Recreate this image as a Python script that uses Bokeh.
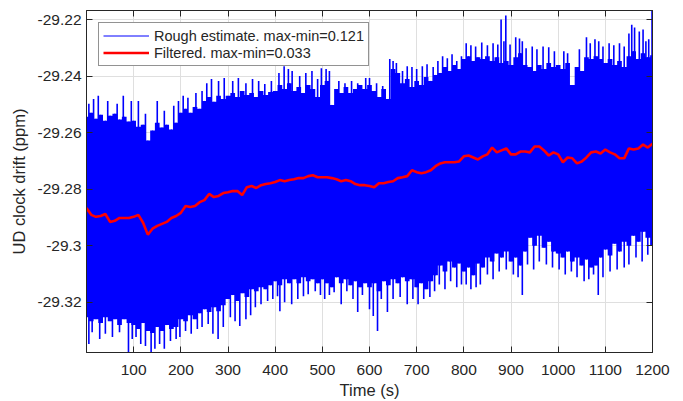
from bokeh.plotting import figure
from bokeh.models import (Range1d, LinearAxis, FixedTicker, Legend, LegendItem,
                          CustomLabelingPolicy)
from bokeh.embed import file_html
from bokeh.resources import INLINE

# ---------------- data ----------------
time_s = list(range(0, 1201, 10))

# dense part of the rough estimate (upper / lower edge every 10 s)
rough_upper = [
    -29.2543, -29.2529, -29.2550, -29.2536, -29.2557, -29.2539, -29.2532, -29.2553, -29.2543, -29.2560,
    -29.2557, -29.2578, -29.2571, -29.2627, -29.2592, -29.2564, -29.2581, -29.2571, -29.2588, -29.2564,
    -29.2529, -29.2515, -29.2529, -29.2508, -29.2515, -29.2487, -29.2473, -29.2490, -29.2469, -29.2480,
    -29.2469, -29.2459, -29.2473, -29.2452, -29.2466, -29.2459, -29.2473, -29.2452, -29.2466, -29.2455,
    -29.2452, -29.2431, -29.2445, -29.2424, -29.2452, -29.2438, -29.2459, -29.2431, -29.2445, -29.2473,
    -29.2431, -29.2416, -29.2501, -29.2445, -29.2459, -29.2438, -29.2459, -29.2445, -29.2431, -29.2445,
    -29.2431, -29.2452, -29.2473, -29.2445, -29.2480, -29.2374, -29.2388, -29.2424, -29.2409, -29.2438,
    -29.2416, -29.2431, -29.2402, -29.2416, -29.2395, -29.2388, -29.2367, -29.2381, -29.2360, -29.2374,
    -29.2339, -29.2329, -29.2346, -29.2332, -29.2339, -29.2329, -29.2346, -29.2332, -29.2353, -29.2346,
    -29.2360, -29.2332, -29.2318, -29.2360, -29.2367, -29.2381, -29.2360, -29.2374, -29.2353, -29.2367,
    -29.2360, -29.2374, -29.2353, -29.2431, -29.2367, -29.2381, -29.2332, -29.2339, -29.2329, -29.2339,
    -29.2353, -29.2339, -29.2360, -29.2346, -29.2367, -29.2329, -29.2311, -29.2339, -29.2318, -29.2332,
    -29.2325,
]
rough_lower = [
    -29.3252, -29.3266, -29.3259, -29.3273, -29.3252, -29.3266, -29.3259, -29.3280, -29.3259, -29.3273,
    -29.3280, -29.3294, -29.3273, -29.3301, -29.3308, -29.3287, -29.3301, -29.3280, -29.3294, -29.3287,
    -29.3259, -29.3266, -29.3245, -29.3259, -29.3238, -29.3224, -29.3234, -29.3217, -29.3231, -29.3210,
    -29.3188, -29.3174, -29.3195, -29.3167, -29.3181, -29.3153, -29.3160, -29.3146, -29.3153, -29.3139,
    -29.3125, -29.3139, -29.3118, -29.3132, -29.3118, -29.3132, -29.3111, -29.3125, -29.3118, -29.3132,
    -29.3118, -29.3132, -29.3146, -29.3111, -29.3132, -29.3118, -29.3139, -29.3125, -29.3146, -29.3132,
    -29.3146, -29.3132, -29.3160, -29.3125, -29.3139, -29.3118, -29.3132, -29.3111, -29.3125, -29.3118,
    -29.3146, -29.3132, -29.3153, -29.3125, -29.3104, -29.3069, -29.3090, -29.3055, -29.3076, -29.3062,
    -29.3090, -29.3076, -29.3104, -29.3062, -29.3076, -29.3041, -29.3055, -29.3027, -29.3041, -29.3020,
    -29.3055, -29.3041, -29.3069, -29.3020, -29.2971, -29.2999, -29.2964, -29.3006, -29.2985, -29.3020,
    -29.3027, -29.3041, -29.3020, -29.3055, -29.3041, -29.3069, -29.3048, -29.3076, -29.3069, -29.3041,
    -29.3013, -29.3034, -29.2992, -29.3020, -29.2985, -29.2999, -29.2964, -29.2985, -29.2950, -29.2971,
    -29.2999,
]

# isolated spikes of the rough estimate (time, value)
spike_up_t = [5, 15, 25, 45, 65, 78, 95, 110, 125, 150, 165, 185, 195,
              205, 215, 232, 245, 255, 265, 280, 292, 310, 322, 338, 352, 365, 378, 392,
              408, 419, 428, 436, 452, 465, 478, 490, 498, 508, 515,
              535, 548, 562, 575, 592, 600, 615, 628, 643, 650, 657,
              670, 680, 690, 700, 712, 722, 735, 745, 755, 765, 775, 785, 795,
              805, 815, 825, 838, 850, 862, 872, 879, 885, 889, 898,
              910, 918, 924, 932, 945, 955, 968, 980, 992, 1012, 1020, 1045,
              1060, 1068, 1078, 1086, 1095, 1108, 1118, 1130, 1140,
              1150, 1156, 1162, 1172, 1180, 1186, 1192, 1199]
spike_up_v = [-29.2497, -29.2480, -29.2469, -29.2487, -29.2497, -29.2469, -29.2487, -29.2487, -29.2532,
              -29.2487, -29.2522, -29.2504, -29.2487,
              -29.2469, -29.2476, -29.2459, -29.2452, -29.2424, -29.2409, -29.2416, -29.2406,
              -29.2416, -29.2406, -29.2424, -29.2409, -29.2416, -29.2427, -29.2416,
              -29.2388, -29.2364, -29.2374, -29.2381, -29.2399, -29.2388, -29.2381, -29.2409,
              -29.2371, -29.2374, -29.2381,
              -29.2416, -29.2424, -29.2416, -29.2424, -29.2406, -29.2406, -29.2424, -29.2434,
              -29.2339, -29.2346, -29.2353,
              -29.2381, -29.2364, -29.2367, -29.2374, -29.2364, -29.2357, -29.2367, -29.2346,
              -29.2329, -29.2336, -29.2322, -29.2346, -29.2329,
              -29.2283, -29.2290, -29.2294, -29.2280, -29.2290, -29.2283, -29.2287, -29.2199,
              -29.2276, -29.2185, -29.2287,
              -29.2262, -29.2266, -29.2276, -29.2301, -29.2294, -29.2304, -29.2294, -29.2297,
              -29.2311, -29.2311, -29.2318, -29.2304,
              -29.2262, -29.2283, -29.2269, -29.2276, -29.2294, -29.2283, -29.2290, -29.2283, -29.2294,
              -29.2248, -29.2217, -29.2227, -29.2241, -29.2234, -29.2276, -29.2269, -29.2167]

spike_dn_t = [5, 12, 28, 40, 55, 70, 89, 97, 105, 115, 125, 137, 145, 155, 165, 178, 190, 198,
              210, 222, 235, 245, 258, 268, 279, 290, 305, 315, 325, 338, 348,
              358, 370, 384, 395, 405, 410, 420, 435, 448, 460, 470, 485, 496,
              505, 515, 525, 540, 552, 565, 575, 585, 600, 608, 617, 625,
              638, 650, 665, 680, 692, 703, 715, 728, 738, 748, 760, 772, 785, 795,
              805, 815, 826, 835, 850, 862, 875, 890, 905, 915, 924,
              935, 948, 960, 975, 988, 1002, 1015, 1028, 1040, 1055, 1065, 1075, 1085,
              1095, 1110, 1125, 1140, 1150, 1165, 1178, 1190]
spike_dn_v = [-29.3347, -29.3305, -29.3329, -29.3311, -29.3322, -29.3305, -29.3377, -29.3329,
              -29.3322, -29.3347, -29.3354, -29.3375, -29.3364, -29.3347, -29.3364, -29.3336,
              -29.3329, -29.3322,
              -29.3301, -29.3311, -29.3294, -29.3287, -29.3276, -29.3311, -29.3329, -29.3287,
              -29.3252, -29.3266, -29.3283, -29.3259, -29.3245,
              -29.3217, -29.3206, -29.3195, -29.3188, -29.3178, -29.3231, -29.3199, -29.3206,
              -29.3188, -29.3178, -29.3171, -29.3160, -29.3174,
              -29.3188, -29.3174, -29.3164, -29.3206, -29.3160, -29.3188, -29.3234, -29.3174,
              -29.3224, -29.3248, -29.3301, -29.3188,
              -29.3234, -29.3188, -29.3181, -29.3206, -29.3188, -29.3206, -29.3188, -29.3181,
              -29.3160, -29.3136, -29.3153, -29.3125, -29.3146, -29.3136,
              -29.3136, -29.3153, -29.3146, -29.3136, -29.3101, -29.3118, -29.3090, -29.3083,
              -29.3101, -29.3111, -29.3174,
              -29.3066, -29.3083, -29.3055, -29.3066, -29.3076, -29.3083, -29.3101, -29.3090,
              -29.3111, -29.3125, -29.3118, -29.3101, -29.3174,
              -29.3111, -29.3090, -29.3083, -29.3076, -29.3066, -29.3041, -29.3055, -29.3031]

filtered = [
    -29.2866, -29.2890, -29.2897, -29.2894, -29.2887, -29.2915, -29.2911, -29.2901, -29.2901, -29.2901,
    -29.2897, -29.2890, -29.2918, -29.2960, -29.2939, -29.2929, -29.2922, -29.2915, -29.2901, -29.2894,
    -29.2883, -29.2859, -29.2862, -29.2859, -29.2845, -29.2838, -29.2816, -29.2827, -29.2823, -29.2813,
    -29.2810, -29.2806, -29.2806, -29.2820, -29.2792, -29.2788, -29.2795, -29.2785, -29.2781, -29.2778,
    -29.2774, -29.2767, -29.2771, -29.2767, -29.2764, -29.2760, -29.2760, -29.2753, -29.2750, -29.2757,
    -29.2757, -29.2757, -29.2760, -29.2764, -29.2771, -29.2767, -29.2771, -29.2781, -29.2785, -29.2785,
    -29.2788, -29.2792, -29.2778, -29.2778, -29.2774, -29.2771, -29.2760, -29.2757, -29.2753, -29.2732,
    -29.2739, -29.2743, -29.2739, -29.2732, -29.2718, -29.2708, -29.2704, -29.2704, -29.2704, -29.2701,
    -29.2683, -29.2680, -29.2687, -29.2694, -29.2683, -29.2676, -29.2652, -29.2669, -29.2662, -29.2655,
    -29.2676, -29.2676, -29.2666, -29.2666, -29.2669, -29.2648, -29.2648, -29.2662, -29.2680, -29.2669,
    -29.2676, -29.2704, -29.2687, -29.2690, -29.2708, -29.2701, -29.2687, -29.2669, -29.2666, -29.2673,
    -29.2659, -29.2669, -29.2676, -29.2690, -29.2690, -29.2655, -29.2659, -29.2655, -29.2641, -29.2652,
    -29.2638,
]

x_ticks = [100, 200, 300, 400, 500, 600, 700, 800, 900, 1000, 1100, 1200]
y_ticks = [-29.32, -29.30, -29.28, -29.26, -29.24, -29.22]
y_tick_labels = ["-29.32", "-29.3", "-29.28", "-29.26", "-29.24", "-29.22"]

label_rough = "Rough estimate. max-min=0.121"
label_filt = "Filtered. max-min=0.033"

# ---------------- figure ----------------
AX = "#262626"
FONT = "Liberation Sans"
BLUE = "#0000ff"

p = figure(width=680, height=401,
           x_range=Range1d(0, 1200), y_range=Range1d(-29.3377, -29.2167),
           output_backend="svg", toolbar_location=None,
           min_border_left=86, min_border_right=28,
           min_border_top=10, min_border_bottom=47,
           background_fill_color="white", border_fill_color="white")
p.outline_line_color = AX
p.outline_line_width = 1

# dense band of the rough estimate (one stepped area, no seams)
p.varea_step(x=time_s, y1=rough_lower, y2=rough_upper, step_mode="center",
             fill_color=BLUE)
rough_line = p.segment(x0=time_s, y0=rough_lower, x1=time_s, y1=rough_upper,
                       line_color=BLUE, line_width=1)
# spikes: from the filtered level at that time out to the spike value
up_base = [filtered[round(t / 10)] for t in spike_up_t]
dn_base = [filtered[round(t / 10)] for t in spike_dn_t]
p.segment(x0=spike_up_t, y0=up_base, x1=spike_up_t, y1=spike_up_v,
          line_color=BLUE, line_width=1.6)
p.segment(x0=spike_dn_t, y0=dn_base, x1=spike_dn_t, y1=spike_dn_v,
          line_color=BLUE, line_width=1.6)

filt_line = p.line(time_s, filtered, line_color="#ff0000", line_width=2.6)

# axes
for ax in (p.xaxis[0], p.yaxis[0]):
    ax.axis_line_color = AX
    ax.major_tick_line_color = AX
    ax.major_tick_in = 6
    ax.major_tick_out = 0
    ax.minor_tick_line_color = None
    ax.major_label_text_color = AX
    ax.major_label_text_font = FONT
    ax.major_label_text_font_size = "15.5px"
    ax.axis_label_text_font = FONT
    ax.axis_label_text_font_size = "16.5px"
    ax.axis_label_text_font_style = "normal"
    ax.axis_label_text_color = AX

p.xaxis[0].ticker = FixedTicker(ticks=x_ticks)
p.yaxis[0].ticker = FixedTicker(ticks=y_ticks)
p.yaxis[0].major_label_overrides = {v: s for v, s in zip(y_ticks, y_tick_labels)}
p.xaxis[0].axis_label = "Time (s)"
p.yaxis[0].axis_label = "UD clock drift (ppm)"
p.xaxis[0].major_label_standoff = 12
p.xaxis[0].axis_label_standoff = 3
p.yaxis[0].major_label_standoff = 5
p.yaxis[0].axis_label_standoff = 7

# mirrored box ticks on top and right (no labels)
no_labels = CustomLabelingPolicy(code="for (const i of indices) { indices.unset(i) }\nreturn indices")
top_ax = LinearAxis(ticker=FixedTicker(ticks=x_ticks), major_label_policy=no_labels)
right_ax = LinearAxis(ticker=FixedTicker(ticks=y_ticks), major_label_policy=no_labels)
for ax in (top_ax, right_ax):
    ax.axis_line_color = AX
    ax.major_tick_line_color = AX
    ax.major_tick_in = 6
    ax.major_tick_out = 0
    ax.minor_tick_line_color = None
    ax.major_label_standoff = 0
    ax.major_label_text_font_size = "1px"
p.add_layout(top_ax, "above")
p.add_layout(right_ax, "right")

# grid
p.xgrid.ticker = FixedTicker(ticks=x_ticks)
p.ygrid.ticker = FixedTicker(ticks=y_ticks)
for g in (p.xgrid[0], p.ygrid[0]):
    g.grid_line_color = "#dfdfdf"
    g.grid_line_width = 1

# legend
legend = Legend(items=[LegendItem(label=label_rough, renderers=[rough_line]),
                       LegendItem(label=label_filt, renderers=[filt_line])],
                location="top_left")
legend.margin = 12
legend.padding = 4
legend.spacing = 0
legend.label_height = 17
legend.glyph_height = 17
legend.glyph_width = 46
legend.label_standoff = 5
legend.label_text_font = FONT
legend.label_text_font_size = "14.5px"
legend.label_text_color = AX
legend.border_line_color = AX
legend.border_line_width = 1
legend.background_fill_color = "white"
legend.background_fill_alpha = 1
p.add_layout(legend)

open("out.html", "w").write(file_html(p, INLINE))
